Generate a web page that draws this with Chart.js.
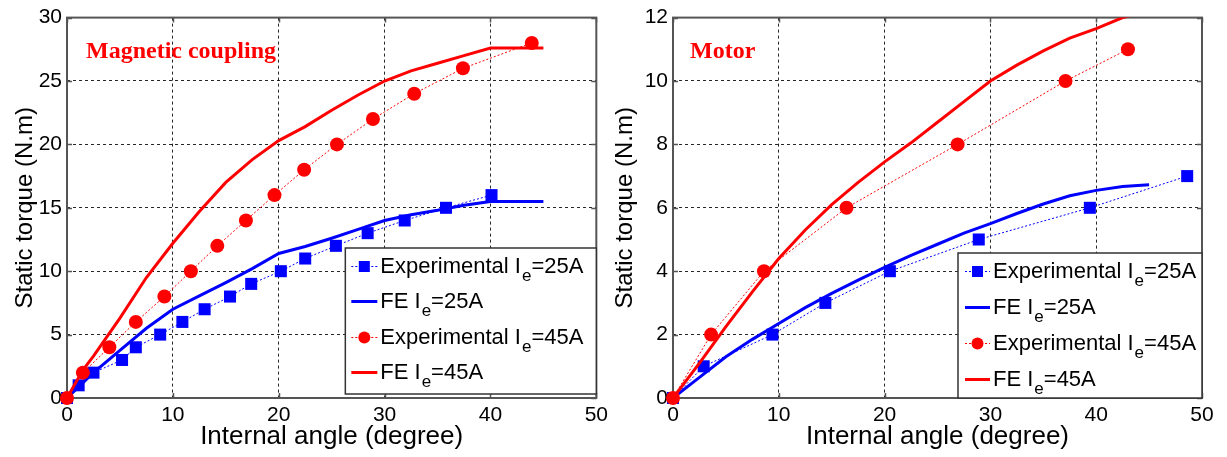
<!DOCTYPE html>
<html><head><meta charset="utf-8">
<script src="https://cdn.jsdelivr.net/npm/chart.js@4.4.1/dist/chart.umd.min.js"></script>
<style>
html,body{margin:0;padding:0;background:#fff;}
#wrap{position:relative;width:1227px;height:457px;background:#fff;}
canvas{position:absolute;top:0;}
#c1{left:0}
#c2{left:613px}
</style></head><body>
<div id="wrap"><canvas id="c1" width="613" height="457"></canvas><canvas id="c2" width="614" height="457"></canvas></div>
<script>
// ---------- Data: Magnetic coupling ----------
const mcExp25Angle  = [0,1.1,2.5,5.2,6.5,8.8,10.9,13.0,15.4,17.4,20.2,22.5,25.4,28.4,31.9,35.8,40.1];
const mcExp25Torque = [0,1,2,3,4,5,6,7,8,9,10,11,12,13,14,15,16];
const mcFe25Angle   = [0,2.5,5,7.5,10,12.5,15,17.5,20,22.5,25,27.5,30,32.5,35,37.5,40,45];
const mcFe25Torque  = [0,2.0,3.75,5.5,7.0,8.05,9.1,10.2,11.4,11.95,12.6,13.3,14.0,14.45,14.8,15.2,15.5,15.5];
const mcExp45Angle  = [0,1.5,4.0,6.5,9.2,11.7,14.2,16.9,19.6,22.4,25.5,28.9,32.8,37.4,43.9];
const mcExp45Torque = [0,2,4,6,8,10,12,14,16,18,20,22,24,26,28];
const mcFe45Angle   = [0,1.5,2.5,5,7.5,10,12.5,15,17.5,20,22.5,25,27.5,30,32.5,35,37.5,40,45];
const mcFe45Torque  = [0,2.2,3.3,6.3,9.5,12.2,14.7,17.0,18.8,20.3,21.4,22.7,23.9,25.0,25.8,26.4,27.0,27.6,27.6];

// ---------- Data: Motor ----------
const moExp25Angle  = [0,2.9,9.4,14.4,20.5,28.9,39.4,48.6];
const moExp25Torque = [0,1,2,3,4,5,6,7];
const moFe25Angle   = [0,2.5,5,7.5,10,12.5,15,17.5,20,22.5,25,27.5,30,32.5,35,37.5,40,42.5,45];
const moFe25Torque  = [0,0.65,1.3,1.85,2.35,2.85,3.3,3.72,4.12,4.5,4.85,5.2,5.5,5.82,6.12,6.38,6.55,6.67,6.73];
const moExp45Angle  = [0,3.6,8.6,16.4,26.9,37.1,43.0];
const moExp45Torque = [0,2,4,6,8,10,11];
const moFe45Angle   = [0,2.5,5,7.5,10,12.5,15,17.5,20,22.5,25,27.5,30,32.5,35,37.5,40,42.5,45];
const moFe45Torque  = [0,1.1,2.25,3.35,4.4,5.3,6.1,6.8,7.45,8.05,8.7,9.35,10.0,10.5,10.95,11.35,11.65,12.0,12.2];

// ---------- Labels ----------
const xTitle = 'Internal angle (degree)';
const yTitle = 'Static torque (N.m)';
const legendLabels = [
  ['Experimental I','e','=25A'],
  ['FE I','e','=25A'],
  ['Experimental I','e','=45A'],
  ['FE I','e','=45A']
];
const BLUE = '#0000ff', RED = '#ff0000';
const FONT = "'Liberation Sans', Arial, sans-serif";

function pts(xs, ys){ return xs.map((x,i)=>({x:x, y:ys[i]})); }

function datasets(e25x,e25y,f25x,f25y,e45x,e45y,f45x,f45y){
  return [
    {data:pts(e25x,e25y), order:3, borderColor:BLUE, backgroundColor:BLUE, borderWidth:1, borderDash:[2,2], clip:false,
     pointStyle:'rect', pointRadius:8.5, pointBorderWidth:0, pointBackgroundColor:BLUE},
    {data:pts(f25x,f25y), order:2, borderColor:BLUE, borderWidth:3, pointRadius:0},
    {data:pts(e45x,e45y), order:1, borderColor:RED, backgroundColor:RED, borderWidth:1, borderDash:[2,2], clip:false,
     pointStyle:'circle', pointRadius:7, pointBorderWidth:0, pointBackgroundColor:RED},
    {data:pts(f45x,f45y), order:0, borderColor:RED, borderWidth:3, pointRadius:0}
  ];
}

const framePlugin = {
  id:'frame',
  beforeDatasetsDraw(chart){
    const ctx = chart.ctx, a = chart.chartArea;
    ctx.save();
    ctx.strokeStyle = '#555'; ctx.setLineDash([]);
    const xs = chart.scales.x, ys = chart.scales.y;
    ctx.lineWidth = 1.5;
    ctx.beginPath();
    xs.ticks.forEach(t=>{
      const p = Math.round(xs.getPixelForValue(t.value))+0.5;
      ctx.moveTo(p, a.bottom); ctx.lineTo(p, a.bottom-5);
      ctx.moveTo(p, a.top); ctx.lineTo(p, a.top+5);
    });
    ys.ticks.forEach(t=>{
      const p = Math.round(ys.getPixelForValue(t.value))+0.5;
      ctx.moveTo(a.left, p); ctx.lineTo(a.left+5, p);
      ctx.moveTo(a.right, p); ctx.lineTo(a.right-5, p);
    });
    ctx.stroke();
    ctx.lineWidth = 2;
    ctx.strokeRect(a.left, a.top, a.right-a.left, a.bottom-a.top);
    ctx.restore();
  },
  afterDraw(chart){
    const o = chart.options.plugins.frame;
    const ctx = chart.ctx, a = chart.chartArea;
    ctx.save();
    // panel label
    ctx.font = "bold 24px 'Liberation Serif', 'Times New Roman', serif";
    ctx.fillStyle = RED; ctx.textBaseline = 'alphabetic'; ctx.textAlign = 'left';
    ctx.fillText(o.label, a.left + o.labelDx, a.top + 40);
    // legend
    const x = a.right - o.lw, y = a.bottom - o.lgap - o.lh;
    ctx.fillStyle = '#fff'; ctx.fillRect(x, y, o.lw, o.lh);
    ctx.strokeStyle = '#333'; ctx.lineWidth = 1.5;
    ctx.strokeRect(x, y, o.lw, o.lh);
    const ds = chart.data.datasets;
    legendLabels.forEach((lab,i)=>{
      const d = ds[i];
      const cy = Math.round(y + o.lfirst + i*o.lstep);
      const x0 = x + o.lx0, x1 = x + o.lx1;
      ctx.save();
      ctx.strokeStyle = d.borderColor; ctx.lineWidth = d.borderWidth;
      ctx.setLineDash(d.borderDash || []);
      ctx.beginPath(); ctx.moveTo(x0, cy+0.5); ctx.lineTo(x1, cy+0.5); ctx.stroke();
      ctx.setLineDash([]);
      if (d.pointRadius > 0){
        ctx.fillStyle = d.pointBackgroundColor;
        const mx = (x0+x1)/2;
        if (d.pointStyle === 'rect') ctx.fillRect(mx-5.5, cy-5, 11, 11);
        else { ctx.beginPath(); ctx.arc(mx, cy+0.5, 6, 0, Math.PI*2); ctx.fill(); }
      }
      ctx.restore();
      ctx.fillStyle = '#000'; ctx.textAlign='left'; ctx.textBaseline='alphabetic';
      let tx = x + o.ltx;
      const by = cy + 7;
      ctx.font = '22px ' + FONT;
      ctx.fillText(lab[0], tx, by); tx += ctx.measureText(lab[0]).width + 1;
      ctx.font = '17px ' + FONT;
      ctx.fillText(lab[1], tx, by + 8); tx += ctx.measureText(lab[1]).width;
      ctx.font = '22px ' + FONT;
      ctx.fillText(lab[2], tx, by);
    });
    ctx.restore();
  }
};

function makeChart(id, data, yMax, yStep, yWidth, padRight, yTitlePad, frameOpts){
  return new Chart(document.getElementById(id), {
    type:'line',
    data:{datasets:data},
    options:{
      responsive:false, animation:false, devicePixelRatio:1,
      layout:{padding:{top:14, right:padRight, left:0, bottom:0}},
      plugins:{legend:{display:false}, tooltip:{enabled:false}, frame:frameOpts},
      elements:{line:{tension:0}},
      scales:{
        x:{type:'linear', min:0, max:50,
           ticks:{stepSize:10, color:'#000', font:{family:FONT, size:21}, padding:5, maxRotation:0},
           grid:{color:'rgba(0,0,0,0.85)', lineWidth:1, drawTicks:false},
           border:{display:false, dash:[3,3]},
           title:{display:true, text:xTitle, color:'#000', font:{family:FONT, size:26, lineHeight:1}, padding:{top:0,bottom:7}},
           afterFit(s){ s.height = 59; }
        },
        y:{type:'linear', min:0, max:yMax,
           ticks:{stepSize:yStep, color:'#000', font:{family:FONT, size:21}, padding:5},
           grid:{color:'rgba(0,0,0,0.85)', lineWidth:1, drawTicks:false},
           border:{display:false, dash:[3,3]},
           title:{display:true, text:yTitle, color:'#000', font:{family:FONT, size:24, lineHeight:1}, padding:{top:yTitlePad,bottom:0}},
           afterFit(s){ s.width = yWidth; }
        }
      }
    },
    plugins:[framePlugin]
  });
}

makeChart('c1',
  datasets(mcExp25Angle,mcExp25Torque,mcFe25Angle,mcFe25Torque,mcExp45Angle,mcExp45Torque,mcFe45Angle,mcFe45Torque),
  30, 5, 67, 15, 13,
  {label:'Magnetic coupling', labelDx:19, lw:251, lh:146, lgap:4, lfirst:17.5, lstep:35.5, lx0:6, lx1:32, ltx:35});
makeChart('c2',
  datasets(moExp25Angle,moExp25Torque,moFe25Angle,moFe25Torque,moExp45Angle,moExp45Torque,moFe45Angle,moFe45Torque),
  12, 2, 60, 25, 0,
  {label:'Motor', labelDx:17, lw:244, lh:145, lgap:0, lfirst:17.5, lstep:36, lx0:7, lx1:32, ltx:35});
</script>
</body></html>
